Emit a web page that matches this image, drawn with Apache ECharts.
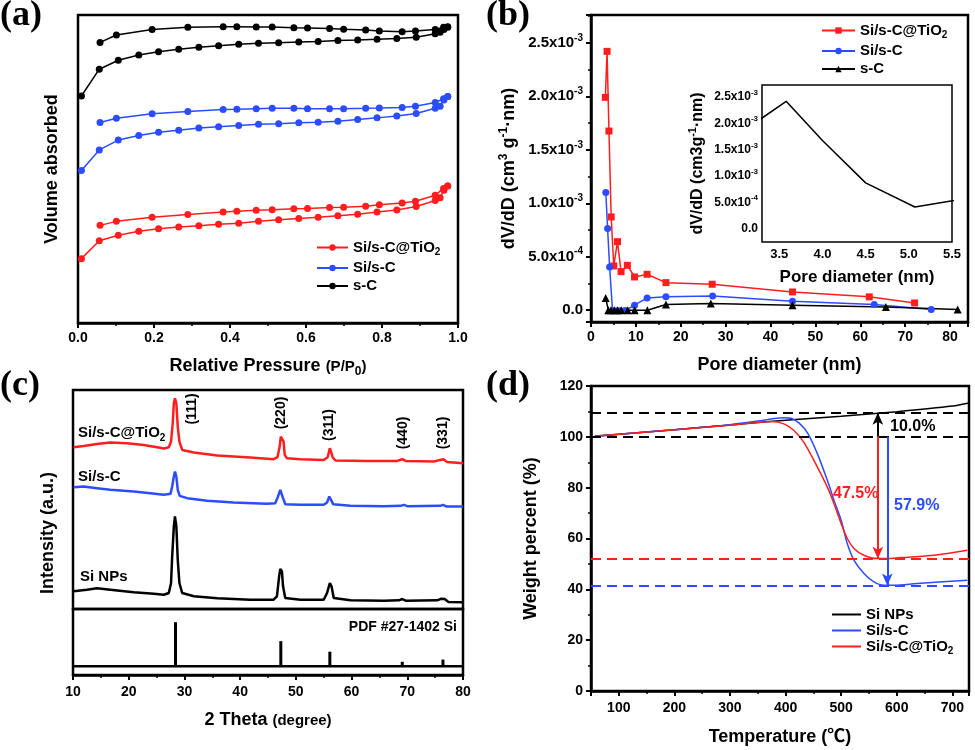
<!DOCTYPE html>
<html>
<head>
<meta charset="utf-8">
<script src="https://cdn.jsdelivr.net/npm/echarts@6/dist/echarts.min.js"></script>
<style>
    html, body { margin: 0; padding: 0; background: #fff; }
    #chart { width: 975px; height: 750px; }
</style>
</head>
<body>
<div id="chart"></div>
<script>
var RED = '#ff1e1e';
var BLUE = '#2b4cff';
var BLACK = '#000000';
var FF = '"Liberation Sans", Arial, "Noto Sans CJK SC", sans-serif';

// (a) N2 isotherms, adsorption then desorption branch (P/P0, arbitrary volume units)
var pressAds = [0.009, 0.056, 0.106, 0.160, 0.212, 0.265, 0.318, 0.370, 0.423, 0.475, 0.528, 0.581, 0.632, 0.684, 0.736, 0.787, 0.839, 0.890, 0.940, 0.953, 0.963, 0.973];
var pressDes = [0.973, 0.962, 0.940, 0.888, 0.853, 0.793, 0.757, 0.699, 0.662, 0.604, 0.568, 0.511, 0.469, 0.418, 0.382, 0.289, 0.195, 0.101, 0.058];
var tiAds = [20.9, 26.7, 28.5, 29.8, 30.6, 31.2, 31.6, 32.1, 32.4, 33.0, 33.5, 33.9, 34.3, 34.8, 35.3, 36.0, 36.7, 37.8, 39.8, 40.7, 43.1, 44.5];
var tiDes = [44.5, 43.7, 41.5, 39.5, 39.0, 38.4, 37.9, 37.6, 37.5, 37.2, 37.1, 36.8, 36.6, 36.3, 36.0, 35.2, 34.3, 33.0, 31.7];
var siCAds = [49.5, 56.2, 59.4, 60.9, 61.9, 62.6, 63.3, 63.7, 64.1, 64.5, 64.7, 65.0, 65.2, 65.5, 66.1, 66.6, 67.2, 68.0, 69.7, 70.4, 72.4, 73.5];
var siCDes = [73.5, 72.8, 71.6, 70.4, 70.0, 69.8, 69.7, 69.6, 69.6, 69.6, 69.7, 69.7, 69.6, 69.4, 69.3, 68.7, 67.9, 66.5, 65.1];
var sCAds = [73.7, 82.4, 85.3, 87.0, 88.1, 88.9, 89.5, 90.0, 90.5, 90.8, 91.0, 91.2, 91.4, 91.7, 91.9, 92.1, 92.4, 92.8, 93.9, 94.4, 95.3, 96.0];
var sCDes = [96.2, 96.0, 95.3, 94.8, 94.6, 94.8, 95.1, 95.4, 95.6, 95.8, 95.9, 96.1, 96.1, 96.2, 96.2, 96.0, 95.3, 93.5, 91.1];

// (b) pore size distribution
var poreTi = [3.2, 3.58, 4.0, 4.5, 5.07, 5.9, 6.7, 8.1, 9.7, 12.5, 16.7, 27.0, 44.9, 62.0, 72.1];
var dvTi = [1.99e-3, 2.42e-3, 1.675e-3, 0.872e-3, 0.414e-3, 0.641e-3, 0.361e-3, 0.420e-3, 0.311e-3, 0.336e-3, 0.258e-3, 0.243e-3, 0.171e-3, 0.125e-3, 0.068e-3];
var poreSiC = [3.3, 3.7, 4.15, 4.8, 5.7, 6.5, 7.6, 9.7, 12.5, 16.7, 27.1, 44.9, 63.1, 75.8];
var dvSiC = [1.10e-3, 0.763e-3, 0.405e-3, -0.005e-3, -0.005e-3, -0.005e-3, -0.003e-3, 0.047e-3, 0.115e-3, 0.125e-3, 0.134e-3, 0.084e-3, 0.053e-3, 0.006e-3];
var poreC = [3.27, 3.86, 4.46, 5.2, 5.94, 6.76, 8.17, 9.73, 12.56, 16.7, 26.7, 44.9, 65.7, 81.7];
var dvC = [0.115e-3, 0, 0, 0, 0, 0, 0, 0, 0, 0.053e-3, 0.062e-3, 0.047e-3, 0.031e-3, 0.006e-3];

// (c) XRD patterns (offset intensities, a.u.)
var thetaTi = [10.1, 11.9, 14.3, 16.7, 19.7, 22.7, 25.1, 26.3, 27.2, 27.6, 27.9, 28.1, 28.3, 28.55, 28.8, 29.1, 29.6, 31.7, 35.9, 41.8, 46.0, 46.7, 47.1, 47.3, 47.5, 47.8, 48.0, 48.4, 50.8, 55.0, 55.7, 56.1, 56.3, 56.6, 57.1, 62.8, 68.2, 69.1, 69.7, 74.8, 75.9, 76.5, 77.1, 80.0];
var intTi = [162, 163.3, 165.3, 166.7, 166, 164.3, 162, 160.7, 162, 167.7, 186, 206, 211, 206, 182.7, 167.7, 159.3, 156.7, 153.7, 151.7, 150, 152, 162.7, 172.7, 173.3, 167.7, 154.3, 151, 150, 149.3, 152, 161, 161, 152, 148.7, 148.3, 148.3, 150, 148.3, 147.7, 149.3, 150, 147.3, 146];
var thetaSiC = [10.1, 11.9, 14.3, 16.7, 20.9, 23.9, 26.3, 27.5, 27.8, 28.1, 28.3, 28.55, 28.8, 29.15, 30.5, 34.1, 38.8, 44.8, 46.3, 46.8, 47.2, 47.5, 47.7, 48.1, 50.8, 55.0, 55.6, 56.0, 56.3, 56.7, 59.8, 65.8, 68.8, 69.4, 70.0, 75.9, 76.4, 77.0, 80.0];
var intSiC = [122, 122.7, 121, 119.3, 117.7, 116, 114.3, 115.3, 122.7, 132.7, 137.7, 132.7, 119.3, 113.3, 111, 108.3, 106.7, 105.3, 106, 112.7, 119.3, 117.7, 111, 105, 104.3, 104.3, 106.7, 112.7, 111, 105, 103.3, 103, 103.3, 104.3, 103, 103.3, 104.3, 102.7, 102.7];
var thetaSi = [10.1, 12.5, 14.3, 16.7, 20.9, 24.5, 26.3, 27.2, 27.6, 27.8, 28.1, 28.3, 28.55, 28.8, 29.1, 29.6, 31.7, 35.9, 41.8, 46.0, 46.6, 47.0, 47.2, 47.5, 47.7, 48.1, 50.8, 55.0, 55.6, 56.1, 56.4, 56.8, 59.8, 65.8, 68.5, 69.1, 69.7, 75.4, 76.1, 76.7, 77.4, 80.0];
var intSi = [17.7, 19.3, 20.7, 19.3, 16.7, 15.3, 14.3, 16, 26, 52.7, 82.7, 92.7, 82.7, 49.3, 26, 16, 12.7, 10.7, 9.3, 9.3, 12.7, 32.7, 40, 37.7, 22.7, 11, 9.3, 9.3, 16, 26, 22.7, 11, 8.7, 8.3, 8.7, 10, 8.3, 8.7, 10.3, 10, 7, 6.7];
var pdfPos = [28.4, 47.3, 56.1, 69.1, 76.4];
var pdfInt = [100, 57, 33, 10, 15];
var pdfBase = [10, 80];
var peakNames = ['(111)', '(220)', '(311)', '(440)', '(331)'];

// (d) TGA
var tSi = [57, 100, 200, 300, 400, 500, 600, 700, 730];
var wSi = [100.3, 101.0, 102.8, 104.7, 106.5, 108.1, 109.9, 112.1, 113.3];
var tSiC = [57, 100, 200, 300, 350, 380, 398, 410, 425, 440, 457, 475, 487, 500, 511, 523, 541, 559, 577, 595, 637, 727];
var wSiC = [100.2, 101.0, 102.8, 104.8, 106.2, 107.2, 107.5, 107.3, 105.3, 101.4, 93.5, 83.0, 75.1, 67.2, 58.0, 51.5, 46.2, 42.9, 41.6, 41.6, 42.3, 43.6];
var tTi = [57, 100, 200, 300, 350, 375, 398, 415, 433, 457, 475, 487, 500, 511, 523, 541, 565, 583, 607, 667, 727];
var wTi = [100.2, 101.0, 102.8, 104.6, 105.6, 106.0, 105.0, 102.5, 97.8, 88.2, 80.3, 73.8, 65.9, 60.0, 56.1, 53.4, 52.1, 52.1, 52.5, 53.4, 55.4];
var levelsBlack = [109.5, 100];
var levelTi = 52;
var levelSiC = 41.5;
var arrowT = [566, 566, 583];

function pairs(xs, ys) {
    var out = [];
    for (var i = 0; i < xs.length; i++) {
        out.push([xs[i], ys[i]]);
    }
    return out;
}

function richSet(size, color) {
    var sub = Math.round(size * 0.66);
    return {
        n: { fontFamily: FF, fontWeight: 'bold', fontSize: size, lineHeight: size + 5, color: color },
        m: { fontFamily: FF, fontWeight: 'bold', fontSize: size - 3, lineHeight: size + 5, color: color },
        sub: { fontFamily: FF, fontWeight: 'bold', fontSize: sub, lineHeight: sub, verticalAlign: 'bottom', color: color },
        sup: { fontFamily: FF, fontWeight: 'bold', fontSize: sub, lineHeight: sub, verticalAlign: 'top', color: color }
    };
}

function sciLabel(v) {
    var k = v / 0.0005;
    if (Math.abs(k - Math.round(k)) > 1e-6 || v < -1e-12) return '';
    if (Math.abs(v) < 1e-12) return '{n|0.0}';
    var e = Math.floor(Math.log10(v) + 1e-9);
    return '{n|' + (v / Math.pow(10, e)).toFixed(1) + 'x10}{sup|' + e + '}';
}

function stepLabel(step, digits) {
    return function (v) {
        var k = v / step;
        if (Math.abs(k - Math.round(k)) > 1e-6) return '';
        return v.toFixed(digits);
    };
}

var line = { show: true, onZero: false, lineStyle: { color: BLACK, width: 2.5 } };
var tick = { show: true, length: 5, lineStyle: { color: BLACK, width: 2 } };
var minor = { show: true, splitNumber: 2, length: 3, lineStyle: { color: BLACK, width: 1.5 } };
var tickLabel = { color: BLACK, fontFamily: FF, fontWeight: 'bold', fontSize: 14 };

var legendText = {
    a1: '{n|Si/s-C@TiO}{sub|2}', a2: '{n|Si/s-C}', a3: '{n|s-C}',
    b1: '{n|Si/s-C@TiO}{sub|2}', b2: '{n|Si/s-C}', b3: '{n|s-C}',
    d1: '{n|Si NPs}', d2: '{n|Si/s-C}', d3: '{n|Si/s-C@TiO}{sub|2}'
};

var gridStyle = { show: true, borderColor: BLACK, borderWidth: 2.5, backgroundColor: 'transparent' };

var option = {
    animation: false,
    backgroundColor: '#fff',
    grid: [
        Object.assign({ left: 78, top: 15, width: 380, height: 308 }, gridStyle),
        Object.assign({ left: 591, top: 15, width: 377, height: 307 }, gridStyle),
        { show: true, left: 762, top: 85, width: 190, height: 157, borderColor: BLACK, borderWidth: 1.5, backgroundColor: '#fff' },
        Object.assign({ left: 73, top: 390, width: 390, height: 219 }, gridStyle),
        Object.assign({ left: 73, top: 609, width: 390, height: 66 }, gridStyle),
        Object.assign({ left: 591, top: 386, width: 378, height: 305 }, gridStyle)
    ],
    xAxis: [
        {
            gridIndex: 0, type: 'value', min: 0, max: 1, interval: 0.2,
            axisLine: line, axisTick: tick, minorTick: minor, splitLine: { show: false },
            axisLabel: Object.assign({ margin: 8, formatter: stepLabel(0.2, 1) }, tickLabel),
            name: '{n|Relative Pressure }{m|(P/P}{sub|0}{m|)}', nameLocation: 'middle', nameGap: 32,
            nameTextStyle: { rich: richSet(18, BLACK) }
        },
        {
            gridIndex: 1, type: 'value', min: 0, max: 84, interval: 10,
            axisLine: line, axisTick: tick, minorTick: minor, splitLine: { show: false },
            axisLabel: Object.assign({ margin: 8, showMaxLabel: false, formatter: stepLabel(10, 0) }, tickLabel),
            name: '{n|Pore diameter (nm)}', nameLocation: 'middle', nameGap: 32,
            nameTextStyle: { rich: richSet(18, BLACK) }
        },
        {
            gridIndex: 2, type: 'value', min: 3.3, max: 5.5, minInterval: 0.5, maxInterval: 0.5,
            axisLine: { show: false }, axisTick: { show: false }, splitLine: { show: false },
            axisLabel: Object.assign({}, tickLabel, { margin: 6, fontSize: 13, showMinLabel: false, formatter: stepLabel(0.5, 1) }),
            name: '{n|Pore diameter (nm)}', nameLocation: 'middle', nameGap: 24,
            nameTextStyle: { rich: richSet(17, BLACK) }
        },
        {
            gridIndex: 3, type: 'value', min: 10, max: 80, show: false
        },
        {
            gridIndex: 4, type: 'value', min: 10, max: 80, interval: 10,
            axisLine: line, axisTick: tick, minorTick: minor, splitLine: { show: false },
            axisLabel: Object.assign({ margin: 10, formatter: stepLabel(10, 0) }, tickLabel),
            name: '{n|2 Theta }{m|(degree)}', nameLocation: 'middle', nameGap: 34,
            nameTextStyle: { rich: richSet(18, BLACK) }
        },
        {
            gridIndex: 5, type: 'value', min: 50, max: 730, minInterval: 100, maxInterval: 100,
            axisLine: line, axisTick: tick, minorTick: minor, splitLine: { show: false },
            axisLabel: Object.assign({ margin: 10, showMinLabel: false, showMaxLabel: false, formatter: stepLabel(100, 0) }, tickLabel),
            name: '{n|Temperature (℃)}', nameLocation: 'middle', nameGap: 35,
            nameTextStyle: { rich: richSet(18, BLACK) }
        }
    ],
    yAxis: [
        {
            gridIndex: 0, type: 'value', min: 0, max: 100,
            axisLine: { show: false }, axisTick: { show: false }, axisLabel: { show: false }, splitLine: { show: false },
            name: '{n|Volume absorbed}', nameLocation: 'middle', nameGap: 14, nameRotate: 90,
            nameTextStyle: { rich: richSet(18, BLACK) }
        },
        {
            gridIndex: 1, type: 'value', min: -0.00011, max: 0.00276, minInterval: 0.0005, maxInterval: 0.0005,
            axisLine: line, axisTick: tick, minorTick: minor, splitLine: { show: false },
            axisLabel: { margin: 8, showMinLabel: false, showMaxLabel: false, formatter: sciLabel, rich: richSet(15, BLACK) },
            name: '{n|dV/dD (cm}{sup|3}{n| g}{sup|-1}{n|·nm)}', nameLocation: 'middle', nameGap: 70, nameRotate: 90,
            nameTextStyle: { rich: richSet(18, BLACK) }
        },
        {
            gridIndex: 2, type: 'value', min: -0.00025, max: 0.00273, minInterval: 0.0005, maxInterval: 0.0005,
            axisLine: { show: false }, axisTick: { show: false }, splitLine: { show: false },
            axisLabel: { margin: 4, showMinLabel: false, showMaxLabel: false, formatter: sciLabel, rich: richSet(12, BLACK) },
            name: '{n|dV/dD (cm3g}{sup|-1}{n|·nm)}', nameLocation: 'middle', nameGap: 54, nameRotate: 90,
            nameTextStyle: { rich: richSet(16, BLACK) }
        },
        {
            gridIndex: 3, type: 'value', min: 0, max: 219.3,
            axisLine: { show: false }, axisTick: { show: false }, axisLabel: { show: false }, splitLine: { show: false }
        },
        {
            gridIndex: 4, type: 'value', min: -20, max: 130, show: false
        },
        {
            gridIndex: 5, type: 'value', min: 0, max: 120, interval: 20,
            axisLine: line, axisTick: tick, minorTick: minor, splitLine: { show: false },
            axisLabel: Object.assign({ margin: 8 }, tickLabel),
            name: '{n|Weight percent (%)}', nameLocation: 'middle', nameGap: 48, nameRotate: 90,
            nameTextStyle: { rich: richSet(18, BLACK) }
        }
    ],
    legend: [
        {
            data: ['a1', 'a2', 'a3'], orient: 'vertical', left: 311, top: 235, itemWidth: 31, itemHeight: 8, itemGap: 3,
            formatter: function (name) { return legendText[name]; },
            textStyle: { rich: richSet(15, BLACK) }, selectedMode: false
        },
        {
            data: ['b1', 'b2', 'b3'], orient: 'vertical', left: 816, top: 18, itemWidth: 33, itemHeight: 8, itemGap: 3,
            formatter: function (name) { return legendText[name]; },
            textStyle: { rich: richSet(15, BLACK) }, selectedMode: false
        },
        {
            data: ['d1', 'd2', 'd3'], orient: 'vertical', left: 826, top: 602, itemWidth: 29, itemHeight: 8, itemGap: 1,
            formatter: function (name) { return legendText[name]; },
            itemStyle: { opacity: 0 },
            textStyle: { rich: richSet(15, BLACK) }, selectedMode: false
        }
    ],
    series: [
        // (a)
        {
            name: 'a1', type: 'line', xAxisIndex: 0, yAxisIndex: 0, symbol: 'circle', symbolSize: 7,
            lineStyle: { color: RED, width: 1.5 }, itemStyle: { color: RED },
            data: pairs(pressAds.concat(pressDes), tiAds.concat(tiDes))
        },
        {
            name: 'a2', type: 'line', xAxisIndex: 0, yAxisIndex: 0, symbol: 'circle', symbolSize: 7,
            lineStyle: { color: BLUE, width: 1.5 }, itemStyle: { color: BLUE },
            data: pairs(pressAds.concat(pressDes), siCAds.concat(siCDes))
        },
        {
            name: 'a3', type: 'line', xAxisIndex: 0, yAxisIndex: 0, symbol: 'circle', symbolSize: 7,
            lineStyle: { color: BLACK, width: 1.5 }, itemStyle: { color: BLACK },
            data: pairs(pressAds.concat(pressDes), sCAds.concat(sCDes))
        },
        // (b)
        {
            name: 'b1', type: 'line', xAxisIndex: 1, yAxisIndex: 1, symbol: 'rect', symbolSize: 7,
            lineStyle: { color: RED, width: 1.5 }, itemStyle: { color: RED },
            data: pairs(poreTi, dvTi)
        },
        {
            name: 'b2', type: 'line', xAxisIndex: 1, yAxisIndex: 1, symbol: 'circle', symbolSize: 7,
            lineStyle: { color: BLUE, width: 1.5 }, itemStyle: { color: BLUE },
            data: pairs(poreSiC, dvSiC)
        },
        {
            name: 'b3', type: 'line', xAxisIndex: 1, yAxisIndex: 1, symbol: 'triangle', symbolSize: 8,
            lineStyle: { color: BLACK, width: 1.5 }, itemStyle: { color: BLACK },
            data: pairs(poreC, dvC)
        },
        {
            name: 'inset', type: 'line', xAxisIndex: 2, yAxisIndex: 2, showSymbol: false, clip: true,
            lineStyle: { color: BLACK, width: 1.5 },
            data: pairs(poreTi, dvTi)
        },
        // (c)
        {
            name: 'c1', type: 'line', xAxisIndex: 3, yAxisIndex: 3, showSymbol: false,
            lineStyle: { color: RED, width: 2.5 }, data: pairs(thetaTi, intTi)
        },
        {
            name: 'c2', type: 'line', xAxisIndex: 3, yAxisIndex: 3, showSymbol: false,
            lineStyle: { color: BLUE, width: 2.5 }, data: pairs(thetaSiC, intSiC)
        },
        {
            name: 'c3', type: 'line', xAxisIndex: 3, yAxisIndex: 3, showSymbol: false,
            lineStyle: { color: BLACK, width: 2.5 }, data: pairs(thetaSi, intSi)
        },
        {
            name: 'pdf', type: 'bar', xAxisIndex: 4, yAxisIndex: 4, barWidth: 3,
            itemStyle: { color: BLACK }, data: pairs(pdfPos, pdfInt)
        },
        {
            name: 'pdfBase', type: 'line', xAxisIndex: 4, yAxisIndex: 4, showSymbol: false,
            lineStyle: { color: BLACK, width: 2.5 }, data: pairs(pdfBase, [0, 0])
        },
        // (d)
        {
            name: 'd1', type: 'line', xAxisIndex: 5, yAxisIndex: 5, showSymbol: false, symbol: 'none', smooth: 0.3,
            lineStyle: { color: BLACK, width: 1.5 }, itemStyle: { color: BLACK },
            data: pairs(tSi, wSi),
            markLine: {
                silent: true, symbol: ['none', 'none'], label: { show: false },
                data: [
                    { yAxis: levelsBlack[0], lineStyle: { color: BLACK, width: 2, type: [10, 6] } },
                    { yAxis: levelsBlack[1], lineStyle: { color: BLACK, width: 2, type: [10, 6] } },
                    { yAxis: levelTi, lineStyle: { color: RED, width: 2, type: [10, 6] } },
                    { yAxis: levelSiC, lineStyle: { color: BLUE, width: 2, type: [10, 6] } },
                    [
                        { coord: [arrowT[0], levelsBlack[1]], symbol: 'none' },
                        { coord: [arrowT[0], levelsBlack[0]], symbol: 'arrow', symbolSize: [8, 12], lineStyle: { color: BLACK, width: 2, type: 'solid' } }
                    ],
                    [
                        { coord: [arrowT[1], levelsBlack[1]], symbol: 'none' },
                        { coord: [arrowT[1], levelTi], symbol: 'arrow', symbolSize: [8, 12], lineStyle: { color: RED, width: 2, type: 'solid' } }
                    ],
                    [
                        { coord: [arrowT[2], levelsBlack[1]], symbol: 'none' },
                        { coord: [arrowT[2], levelSiC], symbol: 'arrow', symbolSize: [8, 12], lineStyle: { color: BLUE, width: 2, type: 'solid' } }
                    ]
                ]
            }
        },
        {
            name: 'd2', type: 'line', xAxisIndex: 5, yAxisIndex: 5, showSymbol: false, symbol: 'none', smooth: 0.3,
            lineStyle: { color: BLUE, width: 1.5 }, itemStyle: { color: BLUE },
            data: pairs(tSiC, wSiC)
        },
        {
            name: 'd3', type: 'line', xAxisIndex: 5, yAxisIndex: 5, showSymbol: false, symbol: 'none', smooth: 0.3,
            lineStyle: { color: RED, width: 1.5 }, itemStyle: { color: RED },
            data: pairs(tTi, wTi)
        }
    ]
};

// panel tags and free annotations
function tag(text, x, y) {
    return {
        type: 'text', x: x, y: y,
        style: { text: text, fontFamily: '"Liberation Serif", serif', fontWeight: 'bold', fontSize: 36, fill: BLACK }
    };
}

function note(text, x, y, size, color, rot, align) {
    return {
        type: 'text', x: x, y: y, rotation: rot || 0,
        style: {
            text: text, rich: richSet(size, color), fill: color,
            align: align || 'left', textAlign: align || 'left',
            verticalAlign: 'middle', textVerticalAlign: 'middle'
        }
    };
}

var peakX = [192, 281, 329, 403, 443];
var peakY = [409, 413, 425, 433, 433];
var graphics = [
    tag('(a)', 0, -2), tag('(b)', 486, -2), tag('(c)', 0, 368), tag('(d)', 486, 368),
    note('{n|Intensity (a.u.)}', 48, 533, 18, BLACK, Math.PI / 2, 'center'),
    note('{n|Si/s-C@TiO}{sub|2}', 78, 433, 15, BLACK),
    note('{n|Si/s-C}', 78, 477, 15, BLACK),
    note('{n|Si NPs}', 80, 577, 15, BLACK),
    note('{n|PDF #27-1402 Si}', 457, 627, 14, BLACK, 0, 'right'),
    note('{n|10.0%}', 890, 427, 16, BLACK),
    note('{n|47.5%}', 833, 494, 16, RED),
    note('{n|57.9%}', 894, 506, 16, BLUE)
];
for (var p = 0; p < peakNames.length; p++) {
    graphics.push(note('{n|' + peakNames[p] + '}', peakX[p], peakY[p], 14, BLACK, Math.PI / 2, 'center'));
}
option.graphic = graphics;

var chart = echarts.init(document.getElementById('chart'));
chart.setOption(option);
</script>
</body>
</html>
